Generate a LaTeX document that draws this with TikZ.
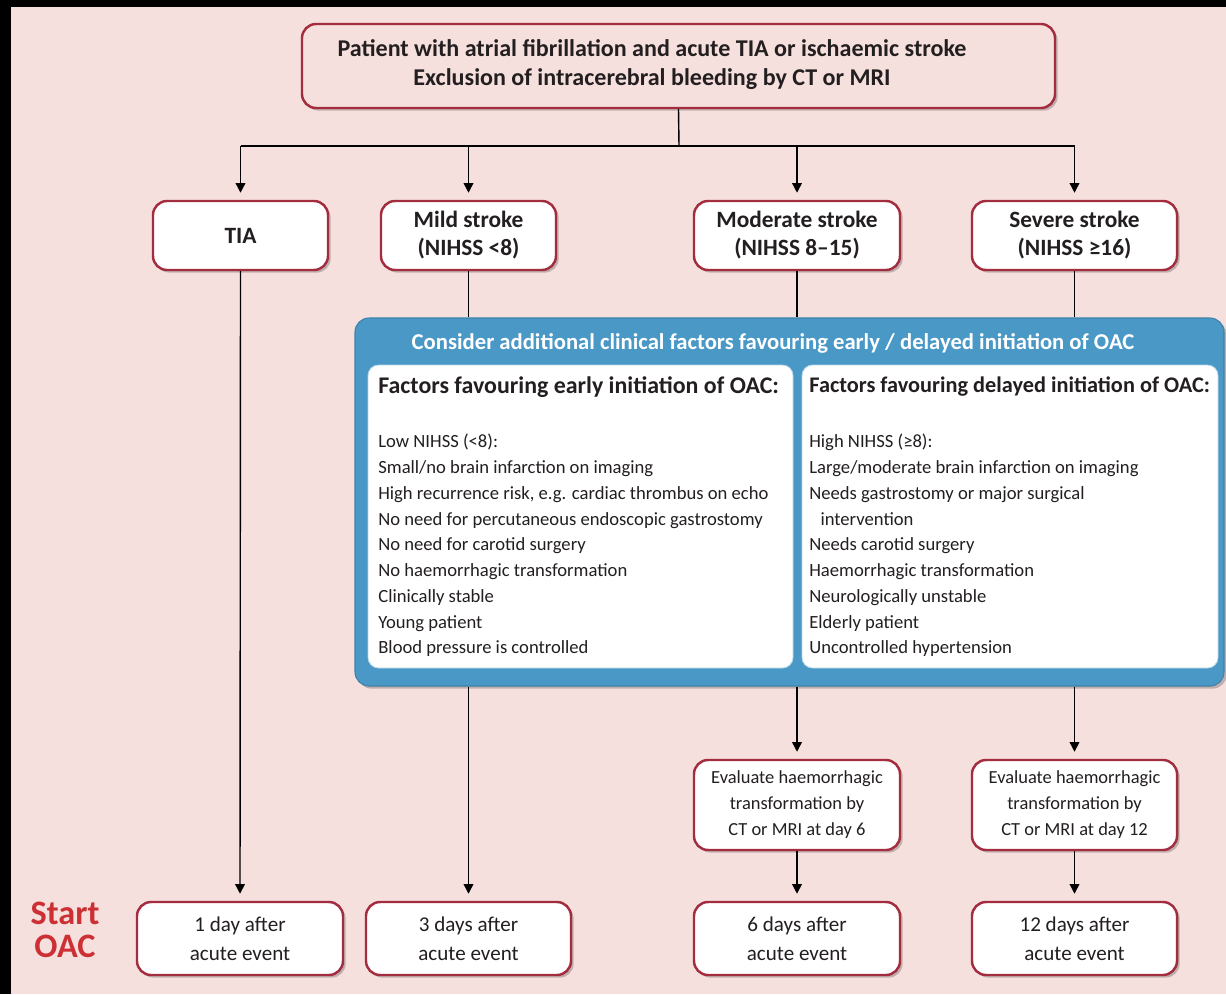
\documentclass[tikz,border=0pt]{standalone}
\usepackage{fontspec}
\setmainfont{Carlito}
\usetikzlibrary{arrows.meta,shadows}
\definecolor{bgpink}{RGB}{246,224,221}
\definecolor{boxred}{RGB}{163,45,62}
\definecolor{oacblue}{RGB}{74,152,198}
\definecolor{startred}{RGB}{205,48,52}
\definecolor{txt}{RGB}{35,31,32}
\tikzset{
  sz/.style 2 args={minimum width=#1*0.02cm,minimum height=#2*0.02cm},
  shad/.style={drop shadow={shadow xshift=1.5pt,shadow yshift=-1.5pt,opacity=0.22,fill=black}},
  redbox/.style={draw=boxred,line width=1.4pt,rounded corners=8pt,fill=white,shad,inner sep=0pt,align=center,text=txt},
  toptxt/.style={font=\bfseries\fontsize{13.7}{16.5}\selectfont,align=center,inner sep=0pt,text=txt},
  strtxt/.style={font=\bfseries\fontsize{13.3}{16}\selectfont},
  daytxt/.style={font=\fontsize{12}{16.5}\selectfont},
  evtxt/.style={font=\fontsize{10.5}{14.8}\selectfont},
  itemtxt/.style={font=\fontsize{10.6}{14.65}\selectfont,align=left,anchor=north west,inner sep=0pt,text=txt},
  headtxt/.style={font=\bfseries\fontsize{13.6}{15}\selectfont,anchor=west,inner sep=0pt,text=txt},
  whitebox/.style={fill=white,draw=oacblue!40,line width=0.5pt,rounded corners=6pt,inner sep=0pt},
  arr/.style={-{Triangle[width=5.5pt,length=5.5pt]},line width=0.8pt,shorten >=4pt},
  ln/.style={line width=0.8pt},
}
\begin{document}
\begin{tikzpicture}[x=0.02cm,y=-0.02cm]
\fill[black] (0,0) rectangle (1226,994);
\fill[bgpink] (11,7) rectangle (1226,994);
\useasboundingbox (0,0) rectangle (1226,994);

% top box
\node[redbox,fill=bgpink,sz={753}{84}] (top) at (678.5,66) {};
\node[toptxt] (toptext) at (652,65) {Patient with atrial fibrillation and acute TIA or ischaemic stroke\\Exclusion of intracerebral bleeding by CT or MRI};

% stroke boxes
\node[redbox,sz={175}{69},strtxt] (tia) at (240.5,235.5) {TIA};
\node[redbox,sz={175}{69},strtxt] (mild) at (468.5,235.5) {Mild stroke\\(NIHSS <8)};
\node[redbox,sz={206}{69},strtxt] (mod) at (797,235.5) {Moderate stroke\\(NIHSS 8–15)};
\node[redbox,sz={205}{69},strtxt] (sev) at (1074.5,235.5) {Severe stroke\\(NIHSS ≥16)};

% blue box
\node[fill=oacblue,draw=oacblue!85!black,line width=0.6pt,rounded corners=8pt,shad,inner sep=0pt,sz={869}{368}] (blue) at (789.5,502) {};
\node[font=\bfseries\fontsize{12.9}{14}\selectfont,text=white,inner sep=0pt] (btitle) at (773,343) {Consider additional clinical factors favouring early / delayed initiation of OAC};
\node[whitebox,sz={425}{303}] (wl) at (580.5,516.5) {};
\node[whitebox,sz={416}{303}] (wr) at (1010,516.5) {};
\node[headtxt] (hl) at (378,387) {Factors favouring early initiation of OAC:};
\node[headtxt,font=\bfseries\fontsize{12.7}{15}\selectfont] (hr) at (809,387) {Factors favouring delayed initiation of OAC:};
\node[itemtxt] (il) at (378,434) {Low NIHSS (<8):\\Small/no brain infarction on imaging\\High recurrence risk, e.g. cardiac thrombus on echo\\No need for percutaneous endoscopic gastrostomy\\No need for carotid surgery\\No haemorrhagic transformation\\Clinically stable\\Young patient\\Blood pressure is controlled};
\node[itemtxt] (ir) at (809,434) {High NIHSS (≥8):\\Large/moderate brain infarction on imaging\\Needs gastrostomy or major surgical\\\hspace*{0.6em}intervention\\Needs carotid surgery\\Haemorrhagic transformation\\Neurologically unstable\\Elderly patient\\Uncontrolled hypertension};

% evaluation boxes
\node[redbox,sz={206}{90},evtxt] (ev6) at (797,805) {Evaluate haemorrhagic\\transformation by\\CT or MRI at day 6};
\node[redbox,sz={205}{90},evtxt] (ev12) at (1074.5,805) {Evaluate haemorrhagic\\transformation by\\CT or MRI at day 12};

% bottom boxes
\node[redbox,sz={206}{73},daytxt] (d1) at (240,938.5) {1 day after\\acute event};
\node[redbox,sz={205}{73},daytxt] (d3) at (468.5,938.5) {3 days after\\acute event};
\node[redbox,sz={206}{73},daytxt] (d6) at (797,938.5) {6 days after\\acute event};
\node[redbox,sz={205}{73},daytxt] (d12) at (1074.5,938.5) {12 days after\\acute event};

\node[font=\bfseries\fontsize{19.5}{18.5}\selectfont,text=startred,align=center,inner sep=0pt] (start) at (65,930) {Start\\OAC};

% connectors
\coordinate (j) at (679,146);
\draw[ln] (top.south) -- (j);
\draw[ln] (tia.north |- j) -- (sev.north |- j);
\draw[arr] (tia.north |- j) -- (tia.north);
\draw[arr] (mild.north |- j) -- (mild.north);
\draw[arr] (mod.north |- j) -- (mod.north);
\draw[arr] (sev.north |- j) -- (sev.north);

\draw[arr] (tia.south) -- (d1.north);
\draw[ln] (mild.south) -- (mild.south |- blue.north);
\draw[ln] (mod.south) -- (mod.south |- blue.north);
\draw[ln] (sev.south) -- (sev.south |- blue.north);
\draw[arr] (d3.north |- blue.south) -- (d3.north);
\draw[arr] (ev6.north |- blue.south) -- (ev6.north);
\draw[arr] (ev12.north |- blue.south) -- (ev12.north);
\draw[arr] (ev6.south) -- (d6.north);
\draw[arr] (ev12.south) -- (d12.north);
\end{tikzpicture}
\end{document}
